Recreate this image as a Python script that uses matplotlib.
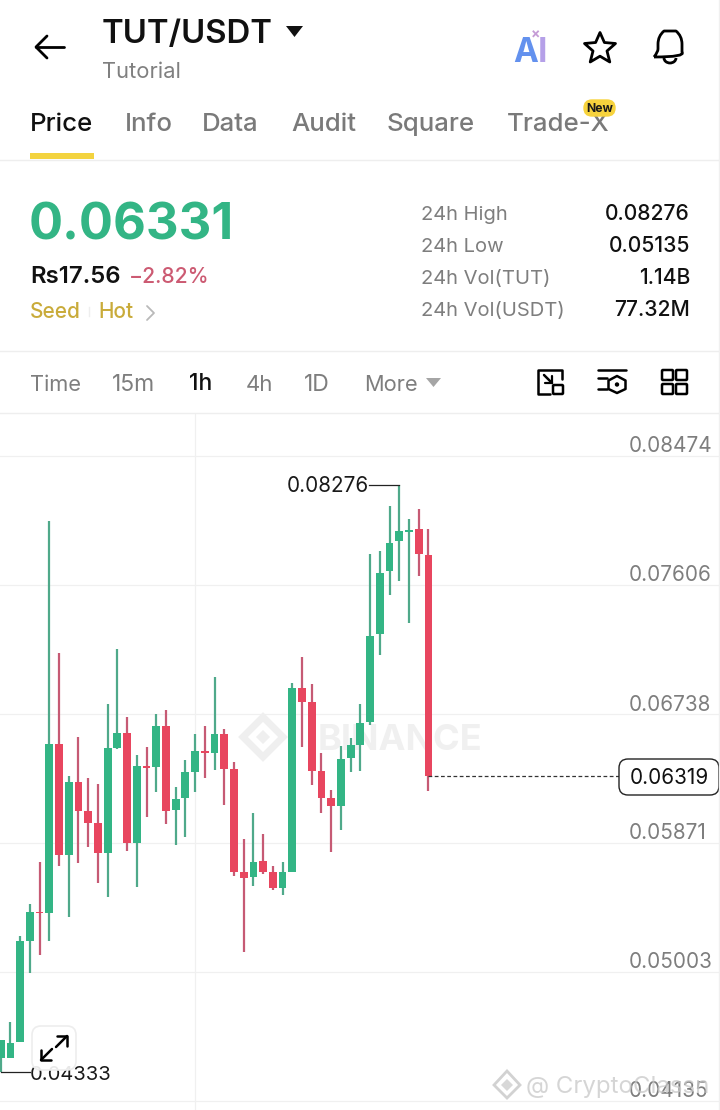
import matplotlib
matplotlib.use("Agg")
import matplotlib.pyplot as plt
from matplotlib.patches import FancyBboxPatch, Polygon, Rectangle, Circle, PathPatch, Arc
from matplotlib.path import Path

plt.rcParams['font.family'] = ['Inter', 'DejaVu Sans']

opens = [.04423,.04423,.04531,.05210,.05405,.05398,.06536,.05789,.06280,.06085,.06004,.05802,.06509,.06610,.05870,
         .06388,.06381,.06657,.06092,.06172,.06347,.06489,.06475,.06603,.06368,.05674,.05641,.05748,.05674,.05567,
         .05674,.06913,.06819,.06354,.06172,.06119,.06442,.06529,.06684,.07276,.07700,.07902,.07963,.07983,.07808]
highs = [.04545,.04666,.05244,.05459,.05742,.08037,.07148,.06321,.06583,.06307,.06267,.06805,.07175,.06718,.06462,
         .06516,.06738,.06765,.06246,.06428,.06603,.06657,.06987,.06637,.06415,.05897,.06072,.05930,.05715,.05742,
         .06946,.07121,.06940,.06475,.06226,.06522,.06576,.06805,.07815,.07835,.08138,.08276,.08050,.08117,.07983]
lows = [.04333,.04423,.04531,.04995,.05116,.05210,.05715,.05372,.05735,.05843,.05600,.05506,.06502,.05816,.05574,
        .06045,.06213,.05997,.05856,.05910,.06213,.06307,.06361,.06125,.05647,.05135,.05580,.05661,.05553,.05520,
        .05674,.06516,.06260,.06072,.05809,.05957,.06347,.06354,.06664,.07135,.07539,.07633,.07350,.07667,.06220]
closes = [.04545,.04525,.05210,.05405,.05398,.06536,.05789,.06280,.06085,.06004,.05802,.06509,.06610,.05870,.06388,
          .06374,.06657,.06085,.06166,.06347,.06489,.06475,.06603,.06368,.05674,.05634,.05742,.05674,.05567,.05674,
          .06913,.06819,.06354,.06172,.06119,.06435,.06529,.06677,.07263,.07687,.07889,.07970,.07970,.07815,.06319]
y_ticks = [0.08474, 0.07606, 0.06738, 0.05871, 0.05003, 0.04135]
y_tick_labels = ["0.08474", "0.07606", "0.06738", "0.05871", "0.05003", "0.04135"]
high_label = 0.08276
low_label = 0.04333
last_price = 0.06319
high_idx, low_idx, last_idx = 41, 0, 44

W, H = 720, 1110
GREEN, RED = "#33B585", "#E8465F"
GREEN_W, RED_W = "#4FA98A", "#C65A74"
GRAY = "#7B7B7B"
LINE = "#EEEEEE"

fig = plt.figure(figsize=(W/100, H/100), dpi=100, facecolor="white")

# chart axes: pixel rows 413..1110
TOP, BOT = 413, 1110
ax = fig.add_axes([0, 0, 1, (BOT-TOP)/H])
ax.set_xlim(-0.072, 74.0)
ax.set_ylim(0.04074, 0.08763)
ax.axis("off")
for t in y_ticks:
    ax.axhline(t, color="#F0F0F0", lw=0.9, zorder=0)
ax.axvline(20.0, color="#F0F0F0", lw=0.9, zorder=0)

# watermark
ax.text(32.6, 0.06496, "BINANCE", fontsize=26, fontweight="bold", color="#F0F0F0",
        ha="left", va="baseline", zorder=0.5)

for i, (o, h, l, c) in enumerate(zip(opens, highs, lows, closes)):
    up = c >= o
    ax.plot([i, i], [l, h], color=GREEN_W if up else RED_W, lw=1.6, solid_capstyle="butt", zorder=2)
    lo, hi = min(o, c), max(o, c)
    ax.bar(i, max(hi-lo, 0.00010), bottom=lo, width=0.8, color=GREEN if up else RED, zorder=3, linewidth=0)

# extreme labels
ax.plot([high_idx-3.1, high_idx], [high_label]*2, color="#222222", lw=0.9, zorder=4)
ax.annotate("0.08276", (high_idx-3.15, high_label), xytext=(0, -7), textcoords="offset pixels",
            ha="right", va="baseline", fontsize=14.9, color="#1A1A1A", zorder=4)
ax.plot([low_idx, low_idx+3.0], [low_label]*2, color="#222222", lw=0.9, zorder=4)
ax.annotate("0.04333", (low_idx+3.0, low_label), xytext=(0, -8), textcoords="offset pixels",
            ha="left", va="baseline", fontsize=14.5, color="#1A1A1A", zorder=4)
ax.plot([last_idx, 63.6], [last_price]*2, color="#333333", lw=0.9, ls=(0, (3, 2)), zorder=4)

# y tick labels, above gridlines
for t, s in zip(y_ticks, y_tick_labels):
    ax.annotate(s, (629/W, t), xycoords=("axes fraction", "data"), xytext=(0, 3.5), textcoords="offset pixels",
                ha="left", va="baseline", fontsize=14.9, color="#7E7E7E", zorder=4)

# overlay UI axes in pixel coordinates
ui = fig.add_axes([0, 0, 1, 1], facecolor="none")
ui.set_xlim(0, W)
ui.set_ylim(H, 0)
ui.axis("off")

def T(x, y, s, size, color="#111111", weight="normal", ha="left", **kw):
    ui.text(x, y, s, fontsize=size, color=color, fontweight=weight, ha=ha, va="baseline", **kw)

def L(xs, ys, color="black", lw=2.0, **kw):
    ui.plot(xs, ys, color=color, lw=lw, solid_capstyle="round", solid_joinstyle="round", **kw)

# header
L([36, 64], [47, 47], lw=2.0)
L([47, 36, 47], [36, 47, 58], lw=2.0)
T(102, 43, "TUT/USDT", 23.7, weight="semibold")
ui.add_patch(Polygon([[286, 26], [303, 26], [294.5, 37]], closed=True, color="#111111", lw=0))
T(102, 78, "Tutorial", 15.8, color="#808080")

# AI logo
T(513, 62, "A", 24, color="#6391EE", weight="bold")
T(538, 62, "I", 24, color="#B5A0E8", weight="bold")
T(536, 38, "×", 10, color="#C59CD6", weight="bold", ha="center")

# star
star = [[600, 32.5], [604.4, 42.5], [615.5, 43.5], [607, 51], [609.8, 62], [600, 56.2], [590.2, 62], [593, 51], [584.5, 43.5], [595.6, 42.5]]
ui.add_patch(Polygon(star, closed=True, fc="none", ec="black", lw=2.0, joinstyle="round"))

# bell
bell = Path([(654, 57), (658, 52), (658, 49), (658, 44), (658, 36), (664, 31), (670, 31),
             (676, 31), (682, 36), (682, 44), (682, 49), (682, 52), (686, 57), (654, 57)],
            [Path.MOVETO, Path.CURVE3, Path.CURVE3, Path.LINETO, Path.CURVE3, Path.CURVE3, Path.CURVE3,
             Path.CURVE3, Path.CURVE3, Path.LINETO, Path.CURVE3, Path.CURVE3, Path.CURVE3, Path.CLOSEPOLY])
ui.add_patch(PathPatch(bell, fc="none", ec="black", lw=2.0, joinstyle="round"))
ui.add_patch(Arc((670, 58), 12, 10, theta1=0, theta2=180, ec="black", lw=2.0))

# tabs
T(30, 131, "Price", 18.6, color="#111111", weight="medium")
for x, s in [(125, "Info"), (202, "Data"), (291, "Audit"), (387, "Square"), (507, "Trade-X")]:
    T(x, 131, s, 18.6, color="#7A7A7A", weight="medium")
ui.add_patch(Rectangle((30, 153), 64, 6, color="#F3D33F", lw=0))
ui.add_patch(FancyBboxPatch((584, 100), 31, 16, boxstyle="round,pad=0,rounding_size=8", fc="#F7D33D", ec="#F7D33D", lw=1, zorder=5))
T(600, 112, "New", 8.8, color="#1A1A1A", weight="bold", ha="center", zorder=6)
for y in (160, 351, 413):
    ui.plot([0, W], [y, y], color=LINE, lw=1)
ui.plot([718.5, 718.5], [0, H], color="#F0F0F0", lw=1)

# price block
T(29, 239, "0.06331", 36.4, color=GREEN, weight="bold")
T(30, 283, "Rs17.56", 17.2, color="#111111", weight="semibold")
T(129, 283, "−2.82%", 15.2, color="#CC5A72", weight="medium")
T(30, 318, "Seed", 15, color="#C9AB3A", weight="medium")
ui.plot([89, 89], [307, 316], color="#EEEEEE", lw=1)
T(98, 318, "Hot", 15, color="#C9AB3A", weight="medium")
L([147, 154, 147], [306, 313, 320], color="#B9B9B9", lw=1.3)

# stats
for y, a, b in [(220, "24h High", "0.08276"), (252, "24h Low", "0.05135"),
                (284, "24h Vol(TUT)", "1.14B"), (316, "24h Vol(USDT)", "77.32M")]:
    T(421, y, a, 14.5, color="#7E7E7E")
    T(690, y, b, 15.2, color="#111111", weight="medium", ha="right")

# interval row
for x, s, fs in [(30, "Time", 15.7), (112, "15m", 16.5), (246, "4h", 16), (304, "1D", 16.5), (364, "More", 15.7)]:
    T(x, 391, s, fs, color="#7E7E7E")
T(189, 390, "1h", 16.5, color="#111111", weight="medium")
ui.add_patch(Polygon([[426, 378], [441, 378], [433.5, 387]], closed=True, color="#A5A5A5", lw=0))

# toolbar icons
L([562, 562, 538, 538, 550], [379, 370, 370, 394, 394], lw=1.8)
ui.add_patch(FancyBboxPatch((553, 385), 10, 9, boxstyle="round,pad=0,rounding_size=1", fc="none", ec="black", lw=1.8))
L([544, 552], [375, 383], lw=1.8)
L([545, 552, 552], [383, 383, 376], lw=1.6)

L([598, 626], [370, 370], lw=1.8)
L([598, 607], [378, 378], lw=1.8)
L([598, 607], [389, 389], lw=1.8)
hexa = [[617, 376], [625.5, 380.5], [625.5, 389], [617, 393], [608.5, 389], [608.5, 380.5]]
ui.add_patch(Polygon(hexa, closed=True, fc="white", ec="black", lw=1.8, joinstyle="round"))
ui.add_patch(Circle((617, 384.5), 2.2, color="black", lw=0))

for x0, y0 in [(662, 370), (676, 370), (662, 384), (676, 384)]:
    ui.add_patch(FancyBboxPatch((x0, y0), 11, 10, boxstyle="round,pad=0,rounding_size=1", fc="none", ec="black", lw=1.8))

# last price box
ui.add_patch(FancyBboxPatch((619, 759), 100, 36, boxstyle="round,pad=0,rounding_size=9", fc="white", ec="#222222", lw=1))
T(669, 784, "0.06319", 14.9, color="#111111", ha="center")

# expand button
ui.add_patch(FancyBboxPatch((32, 1026), 44, 44, boxstyle="round,pad=0,rounding_size=9", fc=(1, 1, 1, 0.9), ec="#EDEDED", lw=1.2, zorder=6))
L([56, 67], [1047, 1036], lw=1.8, zorder=7)
L([41, 52], [1060, 1049], lw=1.8, zorder=7)
L([57, 67, 67], [1036, 1036, 1046], lw=1.8, zorder=7)
L([41, 41, 51], [1050, 1060, 1060], lw=1.8, zorder=7)

# bottom watermark
T(526, 1093, "@ CryptoClassn", 17.3, color="#C8C8C8", alpha=0.75, zorder=1)
ui.add_patch(Polygon([[507, 1071], [520, 1085], [507, 1098], [494, 1085]], closed=True, fc="none", ec="#D2D2D2", lw=2))
ui.add_patch(Polygon([[507, 1079], [513, 1085], [507, 1091], [501, 1085]], closed=True, fc="#D8D8D8", lw=0))

# watermark logo
ui.add_patch(Polygon([[263, 717], [283, 737], [263, 757], [243, 737]], closed=True, fc="none", ec="#EFEFEF", lw=5, zorder=0))
ui.add_patch(Polygon([[263, 730], [270, 737], [263, 744], [256, 737]], closed=True, fc="#EFEFEF", lw=0, zorder=0))

fig.savefig("out.png", dpi=100, facecolor="white")
